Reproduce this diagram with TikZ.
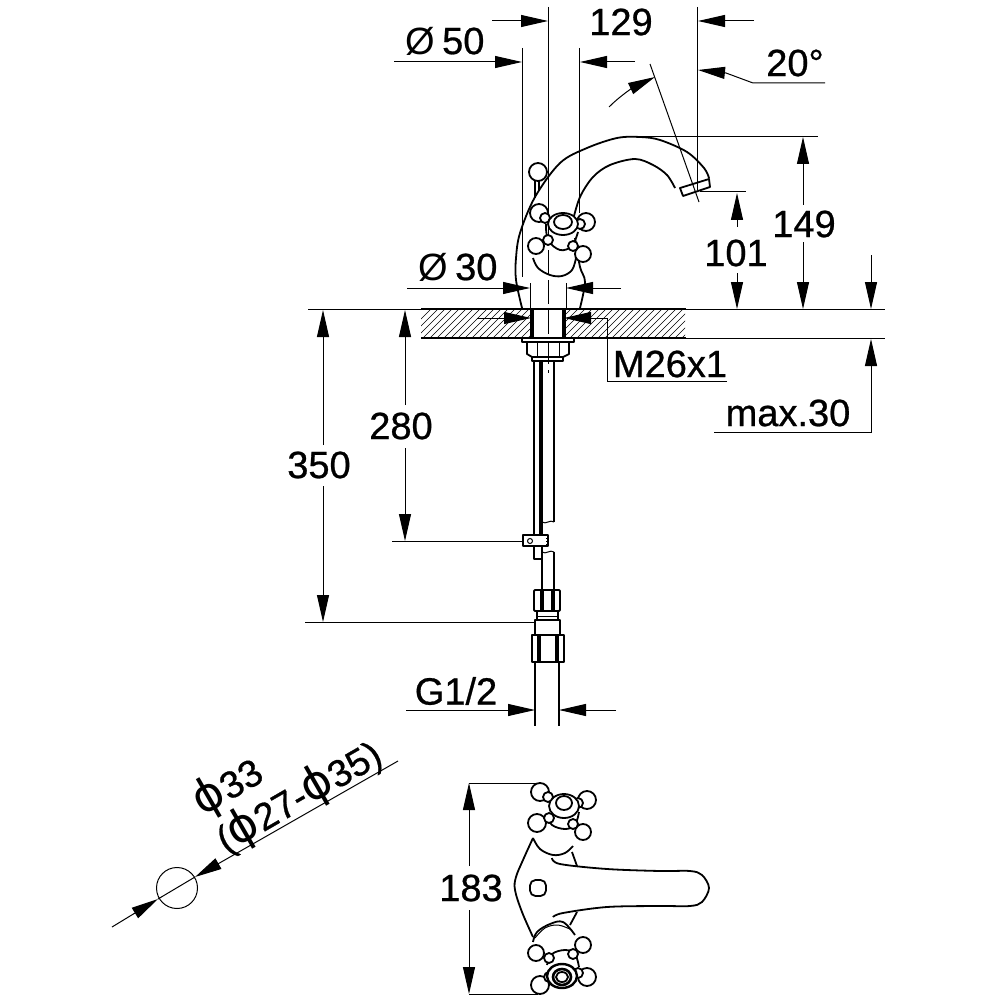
\documentclass[tikz,border=0pt]{standalone}
\usepackage{fontspec}
\setmainfont{Liberation Sans}[FakeBold=0.7]
\newfontfamily\symfont{DejaVu Sans}
\newfontfamily\diafont{Liberation Sans}
\usetikzlibrary{arrows.meta}
\tikzset{
  thinln/.style={line width=1pt},
  obj/.style={line width=1.8pt,line join=round},
  thickln/.style={line width=3.2pt},
  dimr/.style={thinln,-{Triangle[length=27pt,width=12pt]}},
  dimtxt/.style={inner sep=0pt,font=\fontsize{38}{40}\selectfont},
  hatchln/.style={line width=0.5pt},
  ballc/.style={obj,fill=white}
}
\newcommand{\bigphi}{{\symfont\fontsize{46}{46}\selectfont ϕ}}
\begin{document}
\begin{tikzpicture}[x=1pt,y=-1pt]
\useasboundingbox[fill=white] (0,0) rectangle (1000,1000);

% ---------- hatching of the deck
\begin{scope}
\clip (421,309) rectangle (531,338);
\foreach \i in {400,407,...,540} \draw[hatchln] (\i,340) -- ({\i+35},305);
\end{scope}
\begin{scope}
\clip (565,309) rectangle (685,338);
\foreach \i in {540,547,...,700} \draw[hatchln] (\i,340) -- ({\i+35},305);
\end{scope}

% ---------- extension lines
\draw[thinln] (308,309) -- (885,309);
\draw[thinln] (686,338) -- (885,338);
\draw[thinln] (522,48) -- (522,277);
\draw[thinln] (579,48) -- (579,213);
\draw[thinln] (697,7) -- (697,190);
\draw[thinln] (548,7) -- (548,190);
\draw[thinln,dash pattern=on 24pt off 6pt] (548,190) -- (548,373);
\draw[thinln] (640,137) -- (818,137);
\draw[thinln] (700,192) -- (746,192);
\draw[thinln] (650,64) -- (699,202);
\draw[thinln] (530,283) -- (530,309);
\draw[thinln] (566,283) -- (566,309);
\draw[thinln] (392,541) -- (523,541);
\draw[thinln] (305,622) -- (535,622);
\draw[thinln] (469,783) -- (538,783);
\draw[thinln] (469,994) -- (538,994);

% ---------- dimensions, top
\draw[dimr] (492,21) -- (548,21);
\draw[dimr] (754,21) -- (698,21);
\draw[dimr] (394,62) -- (522,62);
\draw[dimr] (635,62) -- (580,62);
\draw[dimr] (609,107) .. controls (622,94) and (636,86) .. (655,77);
\draw[dimr] (825,83) -- (753,83) -- (726,73) -- (698,70);
\node[dimtxt] (t50) at (445,41) {{\diafont Ø}\hspace{7pt}50};
\node[dimtxt] (t129) at (621,22) {129};
\node[dimtxt] (t20) at (795,63) {20°};

% ---------- dimensions, around the deck
\draw[dimr] (407,288) -- (530,288);
\draw[dimr] (621,288) -- (566,288);
\node[dimtxt] (t30) at (458,267) {{\diafont Ø}\hspace{7pt}30};
\draw[dimr] (477,318) -- (531,318);
\draw[dimr] (727,381) -- (607,381) -- (607,318) -- (564,318);
\node[dimtxt] (tm) at (670,364) {M26x1};

\draw[dimr] (737,227) -- (737,193);
\draw[dimr] (737,273) -- (737,309);
\node[dimtxt] (t101) at (736,253) {101};
\draw[dimr] (803,205) -- (803,137);
\draw[dimr] (803,242) -- (803,309);
\node[dimtxt] (t149) at (804,224) {149};
\draw[dimr] (871,255) -- (871,309);
\draw[dimr] (714,432) -- (871,432) -- (871,339);
\node[dimtxt] (tmax) at (788,413) {max.30};

\draw[dimr] (405,405) -- (405,310);
\draw[dimr] (405,448) -- (405,541);
\node[dimtxt] (t280) at (401,426) {280};
\draw[dimr] (323,445) -- (323,310);
\draw[dimr] (323,486) -- (323,622);
\node[dimtxt] (t350) at (319,465) {350};
\draw[dimr] (406,710) -- (535,710);
\draw[dimr] (616,710) -- (559,710);
\node[dimtxt] (tg) at (456,691) {G1/2};
\draw[dimr] (469,866) -- (469,783);
\draw[dimr] (469,910) -- (469,994);
\node[dimtxt] (t183) at (471,888) {183};

% ---------- deck and shank
\draw[obj] (421,309) -- (686,309);
\draw[obj] (421,338) -- (686,338);
\draw[thickln] (532,309) -- (532,338);
\draw[thickln] (564,309) -- (564,338);
\draw[obj,fill=white] (522,338) rectangle (574,342);
\draw[obj] (527,342) -- (527,354) -- (532,357) -- (563,357) -- (569,354) -- (569,342);
\draw[thinln] (537,342) -- (537,357);
\draw[thinln] (559,342) -- (559,357);
\draw[obj] (532,357) -- (532,361) -- (563,361) -- (563,357);

% ---------- supply tubes
\draw[obj] (534,361) -- (534,535);
\draw[thickln] (541,361) -- (541,535);
\draw[obj] (554,361) -- (554,522);
\draw[thinln] (542,522) .. controls (546,525) and (550,519) .. (554,522);
\draw[obj,fill=white] (523,535) rectangle (548,546);
\draw[thinln] (530,541) circle[radius=2.5pt];
\draw[thinln,dotted] (546,535) -- (546,546);
\draw[obj] (534,546) -- (534,559) -- (542,559) -- (542,546);
\draw[obj] (542,559) -- (542,590);
\draw[obj] (554,552) -- (554,590);
\draw[thinln] (542,552) .. controls (546,555) and (550,549) .. (554,552);
% nut 1
\draw[obj,rounded corners=1pt] (534,590) rectangle (560,611);
\draw[thickln] (542,590) -- (542,611);
\draw[thickln] (553,590) -- (553,611);
\draw[obj] (537,611) rectangle (558,620);
\draw[thinln] (537,616) -- (558,616);
\draw[obj] (535,620) rectangle (560,635);
% nut 2
\draw[obj] (532,635) rectangle (564,662);
\draw[thickln] (539,635) -- (539,662);
\draw[thickln] (557,635) -- (557,662);
% hose
\draw[obj] (535,662) -- (535,726);
\draw[obj] (559,662) -- (559,726);

% ---------- spout, side view
\draw[obj] plot[smooth,tension=0.55] coordinates {(522,308) (516,280) (516,258) (520,233) (535,197) (560,163) (587,148) (617,138) (640,137) (660,140) (687,152) (704,168) (709,178)};
\draw[obj] plot[smooth,tension=0.55] coordinates {(675,188) (667,175) (653,165) (635,159) (610,165) (593,177) (580,197) (573,220)};
\draw[obj] plot[smooth,tension=0.55] coordinates {(575,238) (580,267) (585,282) (580,308)};
\draw[obj] (680,188) -- (709,179) -- (710,187) -- (683,196) -- cycle;
% lever
\draw[obj] (535,181) -- (535,198);
\draw[obj] (539,181) -- (539,191);
\draw[ballc] (538,172) circle[radius=9pt];
% bowl
\draw[obj] plot[smooth,tension=0.6] coordinates {(533,258) (538,268) (550,275) (562,276) (572,270) (576,258)};
\draw[obj] plot[smooth,tension=0.6] coordinates {(546,224) (548,240) (560,250) (572,246) (578,232)};
% handle
\draw[ballc] (539,213) circle[radius=9pt];
\draw[ballc] (586,222) circle[radius=9pt];
\draw[ballc] (536,246) circle[radius=8pt];
\draw[ballc] (583,254) circle[radius=8pt];
\draw[ballc] (545,218) circle[radius=5pt];
\draw[ballc] (580,224) circle[radius=5pt];
\draw[ballc] (548,240) circle[radius=5pt];
\draw[ballc] (573,246) circle[radius=5pt];
\draw[ballc] (563,224) ellipse[x radius=15pt,y radius=11pt];
\draw[obj] (563,222) ellipse[x radius=9pt,y radius=7pt];

% ---------- top view
\draw[obj] plot[smooth,tension=0.6] coordinates {(533,838) (523,860) (516,877) (515,890) (522,912) (533,937)};
\draw[obj] plot[smooth,tension=0.55] coordinates {(552,858) (560,864) (607,869) (660,871) (690,871) (702,875) (709,888) (702,902) (690,906) (660,906) (607,907) (563,913) (553,917)};
\draw[obj] (572,852) -- (577,866);
\draw[obj] (577,912) -- (570,925);
\draw[obj,rounded corners=5.5pt] (530,880) rectangle (546,896);
% upper handle
\draw[obj] plot[smooth,tension=0.6] coordinates {(533,838) (540,849) (553,855) (565,853) (573,846)};
\draw[obj] plot[smooth,tension=0.6] coordinates {(547,815) (552,825) (565,829) (575,825) (579,812)};
\draw[ballc] (540,792) circle[radius=9pt];
\draw[ballc] (587,800) circle[radius=9pt];
\draw[ballc] (537,823) circle[radius=9pt];
\draw[ballc] (583,832) circle[radius=8pt];
\draw[ballc] (548,797) circle[radius=5pt];
\draw[ballc] (578,803) circle[radius=5pt];
\draw[ballc] (549,818) circle[radius=5pt];
\draw[ballc] (573,824) circle[radius=5pt];
\draw[ballc] (564,806) ellipse[x radius=15pt,y radius=12pt];
\draw[obj] (564,803) ellipse[x radius=8pt,y radius=7pt];
% lower handle
\draw[obj] plot[smooth,tension=0.6] coordinates {(533,942) (537,932) (550,924) (563,922) (575,935)};
\draw[thinln] plot[smooth,tension=0.6] coordinates {(535,938) (545,928) (558,925) (572,930)};
\draw[obj] plot[smooth,tension=0.6] coordinates {(547,965) (552,954) (565,950) (575,954) (579,967)};
\draw[ballc] (536,953) circle[radius=8pt];
\draw[ballc] (583,945) circle[radius=8pt];
\draw[ballc] (540,985) circle[radius=9pt];
\draw[ballc] (587,977) circle[radius=9pt];
\draw[ballc] (549,958) circle[radius=5pt];
\draw[ballc] (573,954) circle[radius=5pt];
\draw[ballc] (549,977) circle[radius=5pt];
\draw[ballc] (578,973) circle[radius=5pt];
\draw[ballc,line width=2.4pt] (562,976) ellipse[x radius=15pt,y radius=12pt];
\draw[line width=2.6pt] (562,977) ellipse[x radius=9pt,y radius=8pt];
\draw[obj] (562,977) ellipse[x radius=6pt,y radius=5pt];

% ---------- hole with its diameter
\draw[thinln] (177,888) circle[radius=20.5pt];
\draw[dimr] (112,927) -- (158,899);
\draw[dimr] (398,761) -- (195,877);
\draw[thinln] (158,899) -- (195,877);
\node[dimtxt,rotate=30] (t33) at (228,787) {\bigphi33};
\node[dimtxt,rotate=30] (t27) at (299,797) {(\bigphi27-\bigphi35)};
\end{tikzpicture}
\end{document}
